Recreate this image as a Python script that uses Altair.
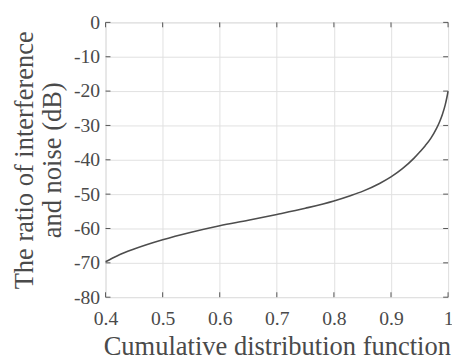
import altair as alt
import pandas as pd

cdf = [0.4, 0.42, 0.45, 0.5, 0.55, 0.6, 0.65, 0.7, 0.75, 0.8, 0.83, 0.85, 0.88,
       0.9, 0.92, 0.94, 0.95, 0.96, 0.97, 0.98, 0.985, 0.99, 0.995, 0.998, 1.0]
ratio_db = [-69.7, -68.0, -66.0, -63.3, -61.1, -59.2, -57.6, -55.9, -54.1, -52.0,
            -50.4, -49.2, -46.9, -45.0, -42.6, -39.6, -37.8, -35.9, -33.7, -30.8,
            -29.0, -26.8, -24.0, -21.8, -20.0]
x_ticks = [0.4, 0.5, 0.6, 0.7, 0.8, 0.9, 1.0]
y_ticks = [-80, -70, -60, -50, -40, -30, -20, -10, 0]

W, H = 349, 280
FONT = "Liberation Serif"
TXT = "#4a4a4a"
FRAME = "#555555"
GRID = "#e0e0e0"

df = pd.DataFrame({"cdf": cdf, "ratio": ratio_db})
xt = pd.DataFrame({"cdf": x_ticks})
yt = pd.DataFrame({"ratio": y_ticks})

xscale = alt.Scale(domain=[0.4, 1.0], nice=False, zero=False)
yscale = alt.Scale(domain=[-80, 0], nice=False, zero=False)

xaxis = alt.Axis(values=x_ticks, labelExpr="toString(datum.value)",
                 title="Cumulative distribution function",
                 labelPadding=12, titleY=58)
yaxis = alt.Axis(values=y_ticks, labelExpr="toString(datum.value)",
                 title=["The ratio of interference", "and noise (dB)"],
                 labelPadding=6, titleX=-74.5, titleLineHeight=29)

X = alt.X("cdf:Q", scale=xscale, axis=xaxis)
Y = alt.Y("ratio:Q", scale=yscale, axis=yaxis)

line = alt.Chart(df).mark_line(color="#4d4d4d", strokeWidth=1.6, interpolate="monotone").encode(
    x=X, y=Y)

tick_len = 5
xb = alt.Chart(xt).mark_rule(color=FRAME, strokeWidth=1).encode(
    x=X, y=alt.value(H), y2=alt.value(H - tick_len))
xtp = alt.Chart(xt).mark_rule(color=FRAME, strokeWidth=1).encode(
    x=X, y=alt.value(0), y2=alt.value(tick_len))
yl = alt.Chart(yt).mark_rule(color=FRAME, strokeWidth=1).encode(
    y=Y, x=alt.value(0), x2=alt.value(tick_len))
yr = alt.Chart(yt).mark_rule(color=FRAME, strokeWidth=1).encode(
    y=Y, x=alt.value(W), x2=alt.value(W - tick_len))

chart = alt.layer(line, xb, xtp, yl, yr).properties(
    width=W, height=H,
    autosize=alt.AutoSizeParams(type="none"),
    padding={"left": 99.4, "top": 11.3, "right": 4, "bottom": 64},
).configure_view(stroke=FRAME, strokeWidth=1.5).configure(
    background="white"
).configure_axis(
    grid=True, gridColor=GRID, gridWidth=1, ticks=False, domain=False,
    labelOverlap=False, labelFlush=False,
    labelFont=FONT, labelFontSize=20, labelColor=TXT,
    titleFont=FONT, titleFontSize=27, titleColor=TXT, titleFontWeight="normal",
    titleBaseline="alphabetic",
)

chart.save("out.html", embed_options={"renderer": "svg", "actions": False})
